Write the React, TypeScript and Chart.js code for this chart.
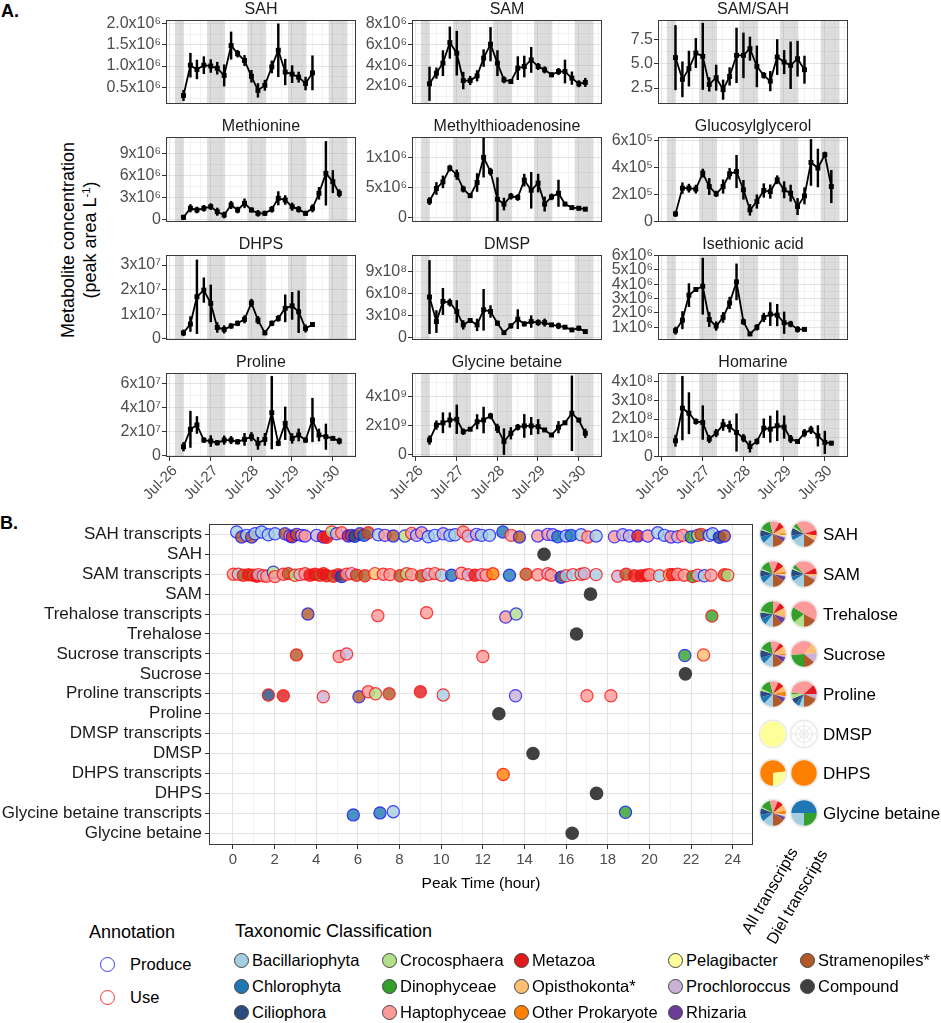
import React, { useEffect, useRef } from 'react';
import { Chart, registerables } from 'chart.js';
Chart.register(...registerables);

const FONT = '"Liberation Sans", Arial, Helvetica, sans-serif';

// ---------------- Panel A data ----------------
const dayLabels = ['Jul-26', 'Jul-27', 'Jul-28', 'Jul-29', 'Jul-30'];
const sampleDays = [0.21, 0.38, 0.54, 0.71, 0.88, 1.04, 1.21, 1.38, 1.54, 1.71, 1.88, 2.04, 2.21, 2.38, 2.54, 2.71, 2.88, 3.04, 3.21, 3.38, 3.54, 3.71, 3.88, 4.04];
const nightStart = [0.0, 0.79, 1.78, 2.78, 3.78];
const nightEnd = [0.22, 1.23, 2.24, 3.23, 4.24];

const sahVal = [0.31, 1.02, 0.92, 1.02, 1.0, 0.95, 0.78, 1.48, 1.29, 1.13, 0.76, 0.43, 0.55, 0.98, 1.37, 0.86, 0.81, 0.74, 0.59, 0.84];
const sahErr = [0.12, 0.28, 0.22, 0.2, 0.15, 0.14, 0.25, 0.32, 0.08, 0.12, 0.14, 0.16, 0.12, 0.14, 0.62, 0.3, 0.2, 0.12, 0.15, 0.4];
const samVal = [2.22, 3.24, 4.19, 6.15, 5.14, 2.53, 2.53, 2.98, 4.67, 6.0, 4.19, 2.6, 2.44, 3.71, 3.87, 4.5, 3.87, 3.55, 3.08, 3.39, 3.39, 2.76, 2.22, 2.35];
const samErr = [1.6, 0.5, 1.2, 1.5, 2.1, 0.8, 0.4, 0.5, 0.8, 1.6, 1.2, 0.3, 0.2, 1.1, 1.0, 1.2, 0.3, 0.3, 0.2, 0.3, 1.1, 0.6, 0.3, 0.4];
const ratioVal = [5.62, 3.39, 4.49, 6.09, 5.75, 2.87, 3.56, 2.33, 3.69, 5.85, 5.85, 6.54, 4.72, 3.8, 3.21, 5.68, 5.16, 4.83, 5.51, 4.38];
const ratioErr = [3.3, 1.8, 1.8, 1.5, 3.4, 0.7, 1.3, 1.0, 0.9, 2.8, 2.3, 1.2, 2.1, 0.3, 1.0, 1.8, 1.2, 2.4, 1.8, 1.4];
const metVal = [0.36, 1.58, 1.35, 1.58, 1.8, 1.12, 0.68, 2.03, 1.35, 2.25, 1.35, 0.9, 0.9, 1.44, 2.93, 2.7, 1.8, 1.44, 0.9, 1.58, 3.6, 6.3, 5.18, 3.6];
const metErr = [0.3, 0.5, 0.4, 0.4, 0.4, 0.5, 0.4, 0.5, 0.4, 0.6, 0.3, 0.4, 0.3, 0.4, 0.9, 0.6, 0.5, 0.4, 0.3, 0.5, 0.8, 4.3, 1.5, 0.5];
const mtaVal = [0.27, 0.48, 0.59, 0.82, 0.71, 0.47, 0.36, 0.58, 1.0, 0.76, 0.3, 0.22, 0.35, 0.33, 0.62, 0.45, 0.57, 0.22, 0.34, 0.4, 0.22, 0.16, 0.15, 0.135];
const mtaErr = [0.06, 0.1, 0.1, 0.05, 0.08, 0.05, 0.03, 0.15, 0.33, 0.06, 0.36, 0.1, 0.05, 0.05, 0.1, 0.3, 0.15, 0.12, 0.05, 0.22, 0.03, 0.03, 0.03, 0.03];
const ggVal = [0.57, 2.47, 2.47, 2.4, 3.58, 2.59, 2.05, 2.59, 3.53, 3.7, 2.35, 0.87, 1.48, 2.3, 2.22, 3.09, 2.35, 2.1, 1.11, 1.9, 4.37, 3.96, 4.94, 2.59];
const ggErr = [0.2, 0.4, 0.3, 0.3, 0.3, 0.6, 0.2, 0.5, 0.4, 1.2, 0.7, 0.4, 0.5, 0.5, 0.5, 0.3, 0.6, 0.6, 0.6, 0.6, 1.7, 1.4, 0.2, 1.2];
const dhpsVal = [0.24, 0.6, 1.71, 1.98, 1.44, 0.46, 0.38, 0.52, 0.63, 0.79, 1.46, 0.76, 0.24, 0.63, 0.83, 1.24, 1.34, 1.1, 0.42, 0.58];
const dhpsErr = [0.12, 0.3, 1.5, 0.5, 0.75, 0.2, 0.15, 0.1, 0.1, 0.15, 0.15, 0.15, 0.08, 0.1, 0.12, 0.55, 0.55, 0.85, 0.15, 0.08];
const dmspVal = [5.55, 2.2, 4.95, 4.8, 3.58, 1.75, 2.34, 1.75, 3.81, 3.58, 1.98, 0.69, 1.61, 2.53, 1.88, 2.2, 2.06, 2.06, 1.75, 1.61, 1.43, 1.06, 1.29, 0.83];
const dmspErr = [5.0, 1.5, 1.8, 0.5, 1.5, 0.6, 0.3, 0.8, 2.8, 0.8, 0.3, 0.2, 0.3, 1.3, 0.3, 0.8, 0.4, 0.5, 0.2, 0.4, 0.2, 0.1, 0.3, 0.2];
const iseVal = [0.77, 1.5, 3.24, 3.63, 3.86, 1.55, 1.09, 1.69, 2.7, 4.16, 1.39, 0.54, 1.0, 1.69, 1.92, 1.85, 1.32, 1.23, 0.86, 0.86];
const iseErr = [0.25, 0.6, 0.8, 0.15, 1.95, 0.5, 0.3, 0.35, 0.4, 1.25, 0.2, 0.12, 0.2, 0.3, 0.8, 0.75, 0.75, 0.2, 0.2, 0.12];
const prolVal = [0.75, 2.19, 2.55, 1.3, 1.22, 1.08, 1.3, 1.3, 1.16, 1.36, 1.58, 1.03, 1.36, 3.57, 1.03, 2.69, 1.44, 1.72, 1.3, 2.96, 1.72, 1.58, 1.44, 1.22];
const prolErr = [0.35, 1.5, 0.7, 0.2, 0.45, 0.2, 0.35, 0.3, 0.2, 0.5, 0.35, 0.5, 0.5, 3.0, 0.2, 1.35, 0.4, 0.5, 0.2, 1.8, 0.5, 1.05, 0.1, 0.25];
const gbVal = [0.99, 2.03, 2.19, 2.38, 2.43, 1.57, 1.74, 2.26, 2.38, 2.66, 1.8, 0.88, 1.46, 1.88, 1.97, 1.97, 1.92, 1.69, 1.34, 1.88, 2.19, 2.85, 2.38, 1.46];
const gbErr = [0.3, 0.3, 0.7, 0.5, 1.0, 0.2, 0.1, 0.5, 0.9, 0.2, 0.3, 0.9, 0.4, 0.2, 0.8, 0.6, 0.5, 0.1, 0.1, 0.4, 0.1, 2.6, 0.1, 0.3];
const homVal = [0.84, 2.58, 2.31, 1.87, 1.81, 0.93, 1.25, 1.69, 1.6, 1.28, 0.98, 0.53, 0.8, 1.51, 1.46, 1.64, 1.57, 0.93, 0.8, 1.25, 1.42, 1.1, 0.75, 0.71];
const homErr = [0.3, 1.7, 1.1, 0.15, 0.9, 0.2, 0.2, 0.3, 0.3, 1.0, 0.2, 0.3, 0.15, 0.5, 0.7, 0.8, 0.6, 0.2, 0.1, 0.2, 0.2, 0.55, 0.6, 0.1];

const panels = [
  { title: 'SAH', val: sahVal, err: sahErr, min: 0.11, max: 2.08, ticks: [0.5, 1.0, 1.5, 2.0], labels: ['0.5x10⁶', '1.0x10⁶', '1.5x10⁶', '2.0x10⁶'] },
  { title: 'SAM', val: samVal, err: samErr, min: 0.29, max: 8.31, ticks: [2, 4, 6, 8], labels: ['2x10⁶', '4x10⁶', '6x10⁶', '8x10⁶'] },
  { title: 'SAM/SAH', val: ratioVal, err: ratioErr, min: 0.86, max: 9.48, ticks: [2.5, 5.0, 7.5], labels: ['2.5', '5.0', '7.5'] },
  { title: 'Methionine', val: metVal, err: metErr, min: -0.27, max: 11.2, ticks: [0, 3, 6, 9], labels: ['0', '3x10⁶', '6x10⁶', '9x10⁶'] },
  { title: 'Methylthioadenosine', val: mtaVal, err: mtaErr, min: -0.08, max: 1.34, ticks: [0, 0.5, 1.0], labels: ['0', '5x10⁶', '1x10⁶'] },
  { title: 'Glucosylglycerol', val: ggVal, err: ggErr, min: -0.03, max: 6.25, ticks: [0, 2, 4, 6], labels: ['0', '2x10⁵', '4x10⁵', '6x10⁵'] },
  { title: 'DHPS', val: dhpsVal, err: dhpsErr, min: -0.05, max: 3.41, ticks: [0, 1, 2, 3], labels: ['0', '1x10⁷', '2x10⁷', '3x10⁷'] },
  { title: 'DMSP', val: dmspVal, err: dmspErr, min: -0.32, max: 11.3, ticks: [0, 3, 6, 9], labels: ['0', '3x10⁸', '6x10⁸', '9x10⁸'] },
  { title: 'Isethionic acid', val: iseVal, err: iseErr, min: 0.12, max: 6.03, ticks: [1, 2, 3, 4, 5, 6], labels: ['1x10⁶', '2x10⁶', '3x10⁶', '4x10⁶', '5x10⁶', '6x10⁶'] },
  { title: 'Proline', val: prolVal, err: prolErr, min: -0.1, max: 6.85, ticks: [0, 2, 4, 6], labels: ['0', '2x10⁷', '4x10⁷', '6x10⁷'] },
  { title: 'Glycine betaine', val: gbVal, err: gbErr, min: -0.19, max: 5.65, ticks: [0, 2, 4], labels: ['0', '2x10⁹', '4x10⁹'] },
  { title: 'Homarine', val: homVal, err: homErr, min: -0.03, max: 4.46, ticks: [0, 1, 2, 3, 4], labels: ['0', '1x10⁸', '2x10⁸', '3x10⁸', '4x10⁸'] },
];

// ---------------- Panel B data ----------------
const categories = ['SAH transcripts', 'SAH', 'SAM transcripts', 'SAM', 'Trehalose transcripts', 'Trehalose', 'Sucrose transcripts', 'Sucrose', 'Proline transcripts', 'Proline', 'DMSP transcripts', 'DMSP', 'DHPS transcripts', 'DHPS', 'Glycine betaine transcripts', 'Glycine betaine'];
const taxonKeys = ['Bac', 'Chl', 'Cil', 'Cro', 'Din', 'Hap', 'Met', 'Opi', 'OtP', 'Pel', 'Pro', 'Rhi', 'Str'];
const taxonNames = ['Bacillariophyta', 'Chlorophyta', 'Ciliophora', 'Crocosphaera', 'Dinophyceae', 'Haptophyceae', 'Metazoa', 'Opisthokonta*', 'Other Prokaryote', 'Pelagibacter', 'Prochloroccus', 'Rhizaria', 'Stramenopiles*'];
const taxonColors = ['#A6CEE3', '#1F78B4', '#2B4A7E', '#B2DF8A', '#33A02C', '#FB9A99', '#E31A1C', '#FDBF6F', '#FF7F00', '#FFFF99', '#CAB2D6', '#6A3D9A', '#B15928'];
const compoundColor = '#404040';

// [peak hour, taxon, annotation (P = produce, U = use), vertical offset]
const sahTx = [
  [0.18, 'Bac', 'P', -0.12], [0.42, 'Str', 'P', 0.13], [0.66, 'Bac', 'P', 0.05], [0.90, 'Str', 'P', 0.13], [1.06, 'Bac', 'P', -0.03], [1.38, 'Bac', 'P', -0.12], [1.70, 'Bac', 'P', 0.02], [2.02, 'Bac', 'P', -0.03],
  [2.50, 'Str', 'P', -0.03], [2.74, 'Hap', 'P', 0.08], [2.85, 'Met', 'P', 0.12], [3.06, 'Str', 'P', 0], [3.30, 'Hap', 'P', 0.05], [3.46, 'Hap', 'P', 0.08], [4.02, 'Pro', 'P', 0.05], [4.34, 'Met', 'P', 0.13],
  [4.50, 'Met', 'U', 0.15], [4.74, 'Cro', 'U', -0.12], [4.98, 'Pro', 'P', -0.03], [5.22, 'Hap', 'U', -0.08], [5.54, 'Met', 'P', 0.08], [5.70, 'Str', 'P', 0.05], [5.85, 'Cil', 'P', 0.1], [6.10, 'Str', 'P', -0.03],
  [6.30, 'Chl', 'P', 0.05], [6.50, 'Str', 'U', -0.08], [6.98, 'Bac', 'P', 0.02], [7.30, 'Hap', 'P', 0.05], [7.70, 'Str', 'P', 0.08], [8.26, 'Cro', 'P', 0.08], [8.58, 'Hap', 'U', -0.05], [8.82, 'Pro', 'P', 0.05],
  [9.06, 'Hap', 'P', -0.08], [9.38, 'Bac', 'P', 0.12], [9.70, 'Bac', 'P', 0.05], [10.10, 'Pro', 'P', -0.03], [10.42, 'Bac', 'P', 0.05], [10.66, 'Bac', 'P', 0.02], [11.06, 'Hap', 'U', -0.12], [11.30, 'Pro', 'U', 0.08],
  [11.70, 'Pro', 'P', 0], [11.94, 'Bac', 'P', 0.05], [12.32, 'Bac', 'P', 0.05], [12.96, 'Chl', 'P', -0.12], [13.36, 'Hap', 'U', 0.05], [13.76, 'Str', 'P', 0.13], [14.64, 'Hap', 'P', 0.08], [15.12, 'Hap', 'P', 0],
  [15.36, 'Pro', 'P', 0.02], [15.60, 'Chl', 'P', 0.12], [16.00, 'Bac', 'P', 0.08], [16.24, 'Chl', 'P', 0.05], [16.72, 'Bac', 'P', 0.02], [17.04, 'Hap', 'U', 0.13], [17.44, 'Bac', 'P', 0.08], [18.32, 'Hap', 'P', 0.12],
  [18.72, 'Pro', 'P', 0.02], [19.04, 'Pro', 'P', 0.08], [19.44, 'Met', 'P', 0.08], [19.92, 'Hap', 'P', 0.08], [20.40, 'Bac', 'P', -0.08], [20.72, 'Bac', 'P', 0.05], [21.04, 'Hap', 'P', 0.13], [21.36, 'Pro', 'P', 0.12],
  [21.60, 'Hap', 'U', 0.05], [22.00, 'Din', 'P', 0.13], [22.32, 'Cro', 'P', 0.05], [22.48, 'Str', 'U', 0], [22.88, 'Bac', 'P', 0.05], [23.04, 'Bac', 'P', -0.03], [23.36, 'Cil', 'P', 0.15], [23.60, 'Str', 'P', 0.08],
];
const samTx = [
  [0.02, 'Hap', 'U', 0], [0.26, 'Bac', 'U', 0], [0.50, 'Str', 'U', 0.05], [0.75, 'Met', 'U', 0.03], [0.98, 'Str', 'U', 0.05], [1.15, 'Met', 'U', 0.1], [1.22, 'Pro', 'U', 0.02], [1.46, 'Bac', 'U', 0.08],
  [1.62, 'Hap', 'U', 0.1], [1.94, 'Cro', 'P', -0.1], [2.02, 'Hap', 'U', 0.12], [2.42, 'Hap', 'U', 0], [2.66, 'Str', 'U', -0.03], [2.98, 'Cro', 'U', 0.05], [3.22, 'Pro', 'U', 0.02], [3.46, 'Hap', 'U', -0.02],
  [3.70, 'Met', 'U', 0.05], [3.94, 'Met', 'U', 0], [4.18, 'Str', 'U', 0.05], [4.35, 'Met', 'U', -0.03], [4.50, 'Met', 'U', 0.08], [4.82, 'Str', 'U', 0.1], [5.05, 'Met', 'U', 0.03], [5.22, 'Cil', 'P', 0.12],
  [5.46, 'Hap', 'U', 0], [5.70, 'Pro', 'U', -0.03], [5.94, 'Str', 'U', 0.05], [6.34, 'Str', 'U', 0.08], [6.82, 'Opi', 'U', -0.03], [7.22, 'Hap', 'U', 0], [7.54, 'Hap', 'U', 0.02], [8.02, 'Str', 'U', 0.08],
  [8.34, 'Cro', 'U', -0.02], [8.58, 'Hap', 'U', 0.02], [9.06, 'Str', 'U', 0.08], [9.38, 'Pro', 'U', 0], [9.70, 'Hap', 'U', -0.03], [10.02, 'Bac', 'U', 0.05], [10.50, 'Chl', 'P', 0.05], [10.98, 'Hap', 'U', -0.05],
  [11.30, 'Pro', 'U', 0.03], [11.62, 'Met', 'U', 0.05], [11.94, 'Pro', 'U', 0.03], [12.16, 'Hap', 'U', 0.05], [12.48, 'OtP', 'U', -0.02], [13.28, 'Chl', 'P', 0.05], [14.08, 'Str', 'U', 0], [14.64, 'Hap', 'U', 0.03],
  [15.12, 'Pro', 'U', -0.02], [15.28, 'Hap', 'U', 0.05], [15.76, 'Cil', 'P', 0.15], [16.00, 'Bac', 'U', 0.08], [16.32, 'Bac', 'U', 0.03], [16.72, 'Bac', 'U', 0], [16.88, 'Pro', 'U', -0.03], [17.44, 'Bac', 'U', 0.02],
  [18.48, 'Pro', 'U', 0.1], [18.88, 'Str', 'U', 0], [19.28, 'Met', 'U', 0.08], [19.60, 'Met', 'U', 0.08], [19.85, 'Met', 'U', 0.05], [20.00, 'Hap', 'U', 0.03], [20.48, 'Bac', 'U', 0.08], [20.96, 'Opi', 'U', 0.03],
  [21.10, 'Met', 'U', 0.02], [21.36, 'Hap', 'U', 0], [21.68, 'Hap', 'U', 0.05], [22.08, 'Din', 'U', 0.12], [22.32, 'Pro', 'U', 0.05], [22.64, 'Bac', 'P', 0.08], [22.96, 'Hap', 'U', 0.05], [23.60, 'Str', 'U', 0.03],
  [23.76, 'Cro', 'U', 0.05],
];
const treTx = [[3.6, 'Str', 'P', 0.0], [6.96, 'Hap', 'U', 0.08], [9.3, 'Hap', 'U', -0.07], [13.1, 'Hap', 'P', 0.15], [13.6, 'Cro', 'P', 0.0], [23.0, 'Din', 'U', 0.1]];
const sucTx = [[3.05, 'Str', 'U', 0.05], [5.1, 'Hap', 'U', 0.13], [5.46, 'Pro', 'U', 0.0], [12.0, 'Hap', 'U', 0.13], [21.7, 'Din', 'P', 0.08], [22.6, 'Opi', 'U', 0.05]];
const proTx = [[1.7, 'Cil', 'U', 0.06], [2.42, 'Met', 'U', 0.1], [4.34, 'Pro', 'U', 0.15], [6.05, 'Str', 'P', 0.15], [6.5, 'Hap', 'U', -0.1], [6.85, 'Cro', 'U', 0.0], [7.5, 'Str', 'U', 0.0], [9.0, 'Met', 'U', -0.1], [10.1, 'Bac', 'U', 0.06], [13.57, 'Pro', 'P', 0.1], [17.0, 'Hap', 'U', 0.1], [18.15, 'Hap', 'U', 0.1]];
const dmspTx = [];
const dhpsTx = [[12.98, 'OtP', 'U', 0.05]];
const gbTx = [[5.78, 'Chl', 'P', 0.08], [7.06, 'Chl', 'P', -0.02], [7.7, 'Bac', 'P', -0.08], [18.85, 'Din', 'P', -0.05]];
const transcriptRows = [[0, sahTx], [2, samTx], [4, treTx], [6, sucTx], [8, proTx], [10, dmspTx], [12, dhpsTx], [14, gbTx]];

const compoundRow = [1, 3, 5, 7, 9, 11, 13, 15];
const compoundHour = [14.94, 17.17, 16.5, 21.73, 12.77, 14.41, 17.46, 16.29];

// Pie composition (fractions, taxa in taxonKeys order)
const pieNames = ['SAH', 'SAM', 'Trehalose', 'Sucrose', 'Proline', 'DMSP', 'DHPS', 'Glycine betaine'];
const pieAll = [
  [0.13, 0.09, 0.08, 0.02, 0.14, 0.12, 0.08, 0.08, 0.03, 0.01, 0.02, 0.05, 0.15],
  [0.13, 0.09, 0.08, 0.02, 0.13, 0.11, 0.09, 0.07, 0.03, 0.01, 0.02, 0.06, 0.16],
  [0.10, 0.09, 0.08, 0.02, 0.21, 0.09, 0.08, 0.11, 0.01, 0, 0.01, 0.08, 0.12],
  [0.12, 0.08, 0.10, 0.02, 0.15, 0.12, 0.06, 0.10, 0.02, 0, 0.02, 0.07, 0.14],
  [0.12, 0.09, 0.08, 0.03, 0.14, 0.11, 0.08, 0.07, 0.06, 0, 0.02, 0.06, 0.14],
  [0, 0, 0, 0, 0, 0, 0, 0, 0, 1, 0, 0, 0],
  [0, 0, 0, 0, 0, 0, 0, 0, 0.73, 0.27, 0, 0, 0],
  [0.14, 0.09, 0.08, 0.02, 0.13, 0.10, 0.08, 0.08, 0.05, 0.01, 0.02, 0.04, 0.16],
];
const pieDiel = [
  [0.17, 0.06, 0.10, 0.02, 0.05, 0.30, 0.07, 0.05, 0, 0, 0.02, 0, 0.16],
  [0.16, 0.06, 0.09, 0.02, 0.05, 0.29, 0.08, 0.04, 0, 0, 0.04, 0, 0.17],
  [0, 0, 0, 0.14, 0.20, 0.49, 0, 0, 0, 0, 0, 0, 0.17],
  [0, 0, 0, 0, 0.24, 0.37, 0, 0.13, 0, 0, 0.12, 0, 0.14],
  [0.06, 0.05, 0.08, 0.06, 0.02, 0.36, 0.12, 0, 0, 0, 0.06, 0, 0.19],
  [0, 0, 0, 0, 0, 0, 0, 0, 0, 0, 0, 0, 0],
  [0, 0, 0, 0, 0, 0, 0, 0, 1, 0, 0, 0, 0],
  [0.25, 0.50, 0, 0, 0.25, 0, 0, 0, 0, 0, 0, 0, 0],
];

// ---------------- layout ----------------
const colLeft = [166, 412, 658];
const rowTop = [20, 137, 255, 373];
const rowH = [84, 85, 85, 84];
const PANEL_W = 190;
const B_LEFT = 209, B_RIGHT = 754, B_TOP = 524, B_BOTTOM = 845;
const B_YMIN = -0.52, B_YMAX = 15.59;

const near = (a: number, b: number) => Math.abs(a - b) < 1e-6;

const panelPlugin = {
  id: 'panelDeco',
  beforeDatasetsDraw(chart: any, _args: any, opts: any) {
    if (!opts.bands) return;
    const { ctx, chartArea: a, scales } = chart;
    const x = scales.x;
    ctx.save();
    ctx.beginPath();
    ctx.rect(a.left, a.top, a.right - a.left, a.bottom - a.top);
    ctx.clip();
    ctx.fillStyle = 'rgba(160,160,160,0.36)';
    nightStart.forEach((s, i) => {
      const x0 = x.getPixelForValue(s);
      const x1 = x.getPixelForValue(nightEnd[i]);
      ctx.fillRect(x0, a.top, x1 - x0, a.bottom - a.top);
    });
    ctx.restore();
  },
  afterDraw(chart: any, _args: any, opts: any) {
    const { ctx, chartArea: a } = chart;
    ctx.save();
    ctx.strokeStyle = '#3a3a3a';
    ctx.lineWidth = 1;
    ctx.strokeRect(Math.round(a.left) + 0.5, Math.round(a.top) + 0.5, Math.round(a.right - a.left) - 1, Math.round(a.bottom - a.top) - 1);
    if (opts.title) {
      ctx.font = `16px ${FONT}`;
      ctx.fillStyle = '#1a1a1a';
      ctx.textAlign = 'center';
      ctx.textBaseline = 'alphabetic';
      ctx.fillText(opts.title, (a.left + a.right) / 2, a.top - 6);
    }
    ctx.restore();
  },
};

function LinePanel({ spec, left, top, h, bottomRow }: any) {
  const ref = useRef<HTMLCanvasElement>(null);
  const YW = 90, PT = 22, PR = 16;
  const XH = bottomRow ? 52 : 0;
  const PB = bottomRow ? 0 : 14;
  const W = YW + PANEL_W + PR;
  const H = PT + h + XH + PB;
  useEffect(() => {
    const xMin = -0.22, xMax = 4.45;
    const xTicks: number[] = [];
    for (let i = 0; i <= 17; i++) xTicks.push(i * 0.25);
    const step = spec.ticks[1] - spec.ticks[0];
    const yTicks: number[] = [];
    spec.ticks.forEach((t: number, i: number) => {
      if (i === 0) yTicks.push(t - step / 2);
      yTicks.push(t);
      yTicks.push(t + step / 2);
    });
    const yT = yTicks.filter((v) => v >= spec.min && v <= spec.max);
    const isMajY = (v: number) => spec.ticks.some((t: number) => near(t, v));
    const isMajX = (v: number) => near(v, Math.round(v));
    const n = spec.val.length;
    const times = sampleDays.slice(0, n);
    const chart = new Chart(ref.current as HTMLCanvasElement, {
      type: 'line',
      data: {
        datasets: [
          {
            type: 'bar',
            data: times.map((t, i) => ({ x: t, y: [spec.val[i] - spec.err[i], spec.val[i] + spec.err[i]] })),
            backgroundColor: '#000',
            borderWidth: 0,
            barThickness: 1.8,
            grouped: false,
            order: 2,
          } as any,
          {
            type: 'line',
            data: times.map((t, i) => ({ x: t, y: spec.val[i] })),
            borderColor: '#000',
            borderWidth: 1.8,
            pointStyle: 'rect',
            pointRadius: 3.5,
            pointBorderWidth: 0,
            pointBackgroundColor: '#000',
            tension: 0,
            fill: false,
            order: 1,
          } as any,
        ],
      },
      options: {
        animation: false,
        responsive: false,
        events: [],
        layout: { padding: { left: 0, top: PT, right: PR, bottom: PB } },
        plugins: {
          legend: { display: false },
          tooltip: { enabled: false },
          panelDeco: { title: spec.title, bands: true },
        } as any,
        scales: {
          x: {
            type: 'linear',
            min: xMin,
            max: xMax,
            offset: false,
            afterBuildTicks: (s: any) => { s.ticks = xTicks.filter((v) => v >= xMin && v <= xMax).map((v) => ({ value: v })); },
            afterFit: (s: any) => { s.height = XH; },
            border: { display: false },
            grid: {
              color: (c: any) => (c.tick && isMajX(c.tick.value) ? '#E4E4E4' : '#EDEDED'),
              lineWidth: (c: any) => (c.tick && isMajX(c.tick.value) ? 1 : 0.7),
              drawTicks: bottomRow,
              tickLength: 4,
              tickColor: (c: any) => (c.tick && isMajX(c.tick.value) ? '#333' : 'rgba(0,0,0,0)'),
            },
            ticks: {
              display: bottomRow,
              autoSkip: false,
              maxRotation: 45,
              minRotation: 45,
              padding: 1,
              color: '#4D4D4D',
              font: { family: FONT, size: 15 },
              callback: (v: any) => (isMajX(v) ? dayLabels[Math.round(v)] : ''),
            },
          },
          y: {
            type: 'linear',
            min: spec.min,
            max: spec.max,
            afterBuildTicks: (s: any) => { s.ticks = yT.map((v) => ({ value: v })); },
            afterFit: (s: any) => { s.width = YW; },
            border: { display: false },
            grid: {
              color: (c: any) => (c.tick && isMajY(c.tick.value) ? '#E4E4E4' : '#EDEDED'),
              lineWidth: (c: any) => (c.tick && isMajY(c.tick.value) ? 1 : 0.7),
              tickLength: 4,
              tickColor: (c: any) => (c.tick && isMajY(c.tick.value) ? '#333' : 'rgba(0,0,0,0)'),
            },
            ticks: {
              autoSkip: false,
              padding: 1,
              color: '#4D4D4D',
              font: { family: FONT, size: 16 },
              callback: (v: any) => {
                const idx = spec.ticks.findIndex((t: number) => near(t, v));
                return idx >= 0 ? spec.labels[idx] : '';
              },
            },
          },
        },
      } as any,
      plugins: [panelPlugin as any],
    });
    return () => chart.destroy();
  }, []);
  return <canvas ref={ref} width={W} height={H} style={{ position: 'absolute', left: left - YW, top: top - PT, width: W, height: H }} />;
}

function withAlpha(hex: string, a: number) {
  const r = parseInt(hex.slice(1, 3), 16), g = parseInt(hex.slice(3, 5), 16), b = parseInt(hex.slice(5, 7), 16);
  return `rgba(${r},${g},${b},${a})`;
}

function DotPlot() {
  const ref = useRef<HTMLCanvasElement>(null);
  const PT = 14, PR = 6, XH = 30;
  const W = B_RIGHT + PR;
  const H = PT + (B_BOTTOM - B_TOP) + XH;
  useEffect(() => {
    const pts: any[] = [], fills: string[] = [], strokes: string[] = [];
    transcriptRows.forEach(([row, list]: any) => {
      list.forEach((p: any) => {
        pts.push({ x: p[0], y: row + p[3] });
        fills.push(withAlpha(taxonColors[taxonKeys.indexOf(p[1])], 0.8));
        strokes.push(p[2] === 'P' ? 'rgba(20,20,255,0.8)' : 'rgba(255,10,10,0.8)');
      });
    });
    const comp = compoundHour.map((hh, i) => ({ x: hh, y: compoundRow[i] }));
    const hours: number[] = [];
    for (let i = 0; i <= 24; i++) hours.push(i);
    const chart = new Chart(ref.current as HTMLCanvasElement, {
      type: 'scatter',
      data: {
        datasets: [
          { data: comp, pointRadius: 6.8, pointBorderWidth: 0, pointBackgroundColor: compoundColor, showLine: false } as any,
          { data: pts, pointRadius: 6.1, pointBorderWidth: 1.2, pointBackgroundColor: fills, pointBorderColor: strokes, showLine: false } as any,
        ],
      },
      options: {
        animation: false,
        responsive: false,
        events: [],
        layout: { padding: { left: 0, top: PT, right: PR, bottom: 0 } },
        plugins: { legend: { display: false }, tooltip: { enabled: false }, panelDeco: { bands: false } } as any,
        scales: {
          x: {
            type: 'linear',
            min: -1.15,
            max: 24.96,
            afterBuildTicks: (s: any) => { s.ticks = hours.map((v) => ({ value: v })); },
            afterFit: (s: any) => { s.height = XH; },
            border: { display: false },
            grid: {
              color: (c: any) => (c.tick && c.tick.value % 2 === 0 ? '#E4E4E4' : '#EEEEEE'),
              lineWidth: (c: any) => (c.tick && c.tick.value % 2 === 0 ? 1 : 0.7),
              tickLength: 4,
              tickColor: (c: any) => (c.tick && c.tick.value % 2 === 0 ? '#333' : 'rgba(0,0,0,0)'),
            },
            ticks: {
              autoSkip: false,
              maxRotation: 0,
              padding: 2,
              color: '#4D4D4D',
              font: { family: FONT, size: 15 },
              callback: (v: any) => (v % 2 === 0 ? String(v) : ''),
            },
          },
          y: {
            type: 'linear',
            min: B_YMIN,
            max: B_YMAX,
            reverse: true,
            afterBuildTicks: (s: any) => { s.ticks = categories.map((_, i) => ({ value: i })); },
            afterFit: (s: any) => { s.width = B_LEFT; },
            border: { display: false },
            grid: { color: '#E4E4E4', lineWidth: 1, tickLength: 4, tickColor: '#333' },
            ticks: {
              autoSkip: false,
              padding: 3,
              color: '#1a1a1a',
              font: { family: FONT, size: 17 },
              callback: (v: any) => categories[v] ?? '',
            },
          },
        },
      } as any,
      plugins: [panelPlugin as any],
    });
    return () => chart.destroy();
  }, []);
  return <canvas ref={ref} width={W} height={H} style={{ position: 'absolute', left: 0, top: B_TOP - PT, width: W, height: H }} />;
}

const pieBgPlugin = {
  id: 'pieBg',
  beforeDatasetsDraw(chart: any) {
    const { ctx, chartArea: a } = chart;
    const cx = (a.left + a.right) / 2, cy = (a.top + a.bottom) / 2;
    ctx.save();
    ctx.fillStyle = '#EBEBEB';
    ctx.beginPath(); ctx.arc(cx, cy, 14.4, 0, Math.PI * 2); ctx.fill();
    ctx.fillStyle = '#FFFFFF';
    ctx.beginPath(); ctx.arc(cx, cy, 12.7, 0, Math.PI * 2); ctx.fill();
    ctx.strokeStyle = '#E6E6E6';
    ctx.lineWidth = 0.9;
    for (let k = 0; k < 8; k++) {
      const ang = (k * Math.PI) / 4;
      ctx.beginPath(); ctx.moveTo(cx, cy); ctx.lineTo(cx + 12.7 * Math.cos(ang), cy + 12.7 * Math.sin(ang)); ctx.stroke();
    }
    [4.2, 8.4].forEach((r) => { ctx.beginPath(); ctx.arc(cx, cy, r, 0, Math.PI * 2); ctx.stroke(); });
    ctx.restore();
  },
};

function Pie({ cx, cy, values }: any) {
  const ref = useRef<HTMLCanvasElement>(null);
  const S = 34;
  useEffect(() => {
    const chart = new Chart(ref.current as HTMLCanvasElement, {
      type: 'pie',
      data: {
        labels: taxonNames,
        datasets: [{ data: values, backgroundColor: taxonColors, borderWidth: 0 }],
      },
      options: {
        animation: false,
        responsive: false,
        events: [],
        radius: 12.7,
        rotation: 180,
        layout: { padding: 0 },
        plugins: { legend: { display: false }, tooltip: { enabled: false } },
      } as any,
      plugins: [pieBgPlugin as any],
    });
    return () => chart.destroy();
  }, []);
  return <canvas ref={ref} width={S} height={S} style={{ position: 'absolute', left: cx - S / 2, top: cy - S / 2, width: S, height: S }} />;
}

function Txt({ x, y, size = 16, weight = 400, color = '#000', center = false, children }: any) {
  return (
    <div style={{ position: 'absolute', left: x, top: y, fontSize: size, fontWeight: weight, color, lineHeight: 1, whiteSpace: 'nowrap', transform: center ? 'translate(-50%,-50%)' : 'translateY(-50%)' }}>
      {children}
    </div>
  );
}

function Dot({ x, y, fill, stroke, r = 7, bw = 1 }: any) {
  return <div style={{ position: 'absolute', left: x - r, top: y - r, width: 2 * r, height: 2 * r, borderRadius: '50%', background: fill, border: `${bw}px solid ${stroke}`, boxSizing: 'border-box' }} />;
}

export default function App() {
  const rowStep = (B_BOTTOM - B_TOP) / (B_YMAX - B_YMIN);
  const rowY = (i: number) => B_TOP + (i - B_YMIN) * rowStep;
  const legendItems = [...taxonNames.map((n, i) => ({ n, c: taxonColors[i] })), { n: 'Compound', c: compoundColor }];
  const legCols = [241, 389, 521, 675, 807];
  const legRows = [960, 986, 1012];
  return (
    <div style={{ position: 'absolute', left: 0, top: 0, width: 941, height: 1023, background: '#fff', fontFamily: FONT, overflow: 'hidden' }}>
      <Txt x={1} y={11} size={18} weight={700}>A.</Txt>
      <Txt x={0} y={523} size={18} weight={700}>B.</Txt>
      <div style={{ position: 'absolute', left: 82 - 150, top: 240 - 25, width: 300, height: 50, transform: 'rotate(-90deg)', textAlign: 'center', fontSize: 18, lineHeight: '22px', color: '#000' }}>
        Metabolite concentration<br />(peak area L<sup style={{ fontSize: '0.62em', verticalAlign: '0.55em', lineHeight: 0 }}>-1</sup>)
      </div>
      {panels.map((p, i) => (
        <LinePanel key={p.title} spec={p} left={colLeft[i % 3]} top={rowTop[Math.floor(i / 3)]} h={rowH[Math.floor(i / 3)]} bottomRow={Math.floor(i / 3) === 3} />
      ))}
      <DotPlot />
      <Txt x={481} y={883} size={15.5} center>Peak Time (hour)</Txt>
      {pieNames.map((n, k) => (
        <React.Fragment key={n}>
          <Pie cx={773.3} cy={rowY(2 * k)} values={pieAll[k]} />
          <Pie cx={804.3} cy={rowY(2 * k)} values={pieDiel[k]} />
          <Txt x={823} y={rowY(2 * k)} size={17}>{n}</Txt>
        </React.Fragment>
      ))}
      <div style={{ position: 'absolute', right: 941 - 787, top: 845, fontSize: 16, lineHeight: 1, whiteSpace: 'nowrap', transformOrigin: 'right top', transform: 'rotate(-60deg)' }}>All transcripts</div>
      <div style={{ position: 'absolute', right: 941 - 817, top: 847, fontSize: 16, lineHeight: 1, whiteSpace: 'nowrap', transformOrigin: 'right top', transform: 'rotate(-60deg)' }}>Diel transcripts</div>

      <Txt x={89} y={932} size={18}>Annotation</Txt>
      <Dot x={107} y={964} fill="transparent" stroke="rgba(40,40,255,0.9)" r={7.5} bw={1.3} />
      <Txt x={130} y={964} size={16.5}>Produce</Txt>
      <Dot x={107} y={997} fill="transparent" stroke="rgba(255,30,30,0.9)" r={7.5} bw={1.3} />
      <Txt x={130} y={997} size={16.5}>Use</Txt>
      <Txt x={235} y={931} size={18}>Taxonomic Classification</Txt>
      {legendItems.map((it, i) => {
        const col = Math.floor(i / 3), row = i % 3;
        return (
          <React.Fragment key={it.n}>
            <Dot x={legCols[col]} y={legRows[row]} fill={it.c} stroke="#444" r={7.5} bw={1} />
            <Txt x={legCols[col] + 11} y={legRows[row]} size={16.5}>{it.n}</Txt>
          </React.Fragment>
        );
      })}
    </div>
  );
}
